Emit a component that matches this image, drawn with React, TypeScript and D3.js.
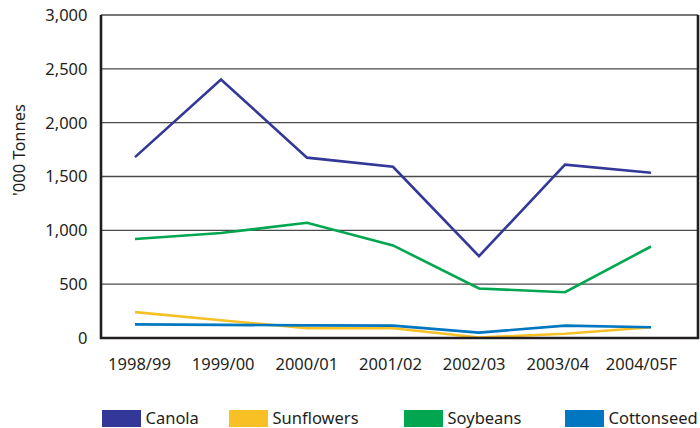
import React, { useEffect, useRef } from "react";
import * as d3 from "d3";

// Marketing years on the x axis
const seasons = ["1998/99", "1999/00", "2000/01", "2001/02", "2002/03", "2003/04", "2004/05F"];

// Production, '000 tonnes
const canola = [1680, 2400, 1675, 1590, 760, 1610, 1535];
const sunflowers = [240, 165, 92, 90, 5, 40, 100];
const soybeans = [920, 975, 1070, 860, 460, 425, 850];
const cottonseed = [127, 122, 117, 115, 50, 115, 100];

const yTicks = [0, 500, 1000, 1500, 2000, 2500, 3000];

const seriesNames = ["Canola", "Sunflowers", "Soybeans", "Cottonseed"];
const seriesValues = [canola, sunflowers, soybeans, cottonseed];
const seriesColors = ["#333797", "#f7c125", "#00a650", "#0077c0"];

const FONT = "'Noto Sans', sans-serif";

const App = () => {
  const svgRef = useRef<SVGSVGElement | null>(null);

  useEffect(() => {
    const svg = d3.select(svgRef.current);
    svg.selectAll("*").remove();

    // plot frame
    const left = 101;
    const right = 698;
    const top = 15;
    const bottom = 338;

    const y = d3.scaleLinear().domain([0, 3000]).range([bottom, top]);
    // where the points sit
    const x = d3.scalePoint().domain(seasons).range([135, 651]);
    // labels are a touch offset from the points in the original
    const xLabel = d3.scalePoint().domain(seasons).range([139.5, 641.5]);

    // horizontal gridlines
    svg
      .append("g")
      .selectAll("line")
      .data(yTicks.filter((t) => t > 0))
      .enter()
      .append("line")
      .attr("x1", left)
      .attr("x2", right)
      .attr("y1", (d) => y(d))
      .attr("y2", (d) => y(d))
      .attr("stroke", "#4a4a4a")
      .attr("stroke-width", 1.4);

    // y tick labels
    svg
      .append("g")
      .selectAll("text")
      .data(yTicks)
      .enter()
      .append("text")
      .attr("x", 87.5)
      .attr("y", (d) => y(d))
      .attr("dy", "0.36em")
      .attr("text-anchor", "end")
      .style("font-family", FONT)
      .style("font-size", "16.5px")
      .attr("fill", "#231f20")
      .text((d) => d3.format(",")(d));

    // x tick labels
    svg
      .append("g")
      .selectAll("text")
      .data(seasons)
      .enter()
      .append("text")
      .attr("x", (d) => xLabel(d) as number)
      .attr("y", 370)
      .attr("text-anchor", "middle")
      .style("font-family", FONT)
      .style("font-size", "16.5px")
      .attr("fill", "#231f20")
      .text((d) => d);

    // y axis title
    svg
      .append("text")
      .attr("transform", "translate(25,150) rotate(-90)")
      .attr("text-anchor", "middle")
      .style("font-family", FONT)
      .style("font-size", "16.5px")
      .attr("fill", "#231f20")
      .text("'000 Tonnes");

    // series lines
    const line = d3
      .line<number>()
      .x((d, i) => x(seasons[i]) as number)
      .y((d) => y(d));

    seriesValues.forEach((vals, i) => {
      svg
        .append("path")
        .datum(vals)
        .attr("fill", "none")
        .attr("stroke", seriesColors[i])
        .attr("stroke-width", 2.6)
        .attr("stroke-linejoin", "miter")
        .attr("d", line);
    });

    // frame: left, bottom, right are heavy
    svg
      .append("path")
      .attr("d", `M${left},${top} V${bottom} H${right} V${top}`)
      .attr("fill", "none")
      .attr("stroke", "#231f20")
      .attr("stroke-width", 2.6);

    // legend
    const legendX = [102, 229, 404, 565];
    const legend = svg
      .append("g")
      .selectAll("g")
      .data(seriesNames)
      .enter()
      .append("g")
      .attr("transform", (d, i) => `translate(${legendX[i]},410)`);

    legend
      .append("rect")
      .attr("width", 39)
      .attr("height", 17)
      .attr("fill", (d, i) => seriesColors[i]);

    legend
      .append("text")
      .attr("x", 43.5)
      .attr("y", 14)
      .style("font-family", FONT)
      .style("font-size", "16.5px")
      .attr("fill", "#231f20")
      .text((d) => d);
  }, []);

  return (
    <svg
      ref={svgRef}
      width={700}
      height={428}
      style={{ position: "absolute", left: 0, top: 0, background: "#fff" }}
    />
  );
};

export default App;
